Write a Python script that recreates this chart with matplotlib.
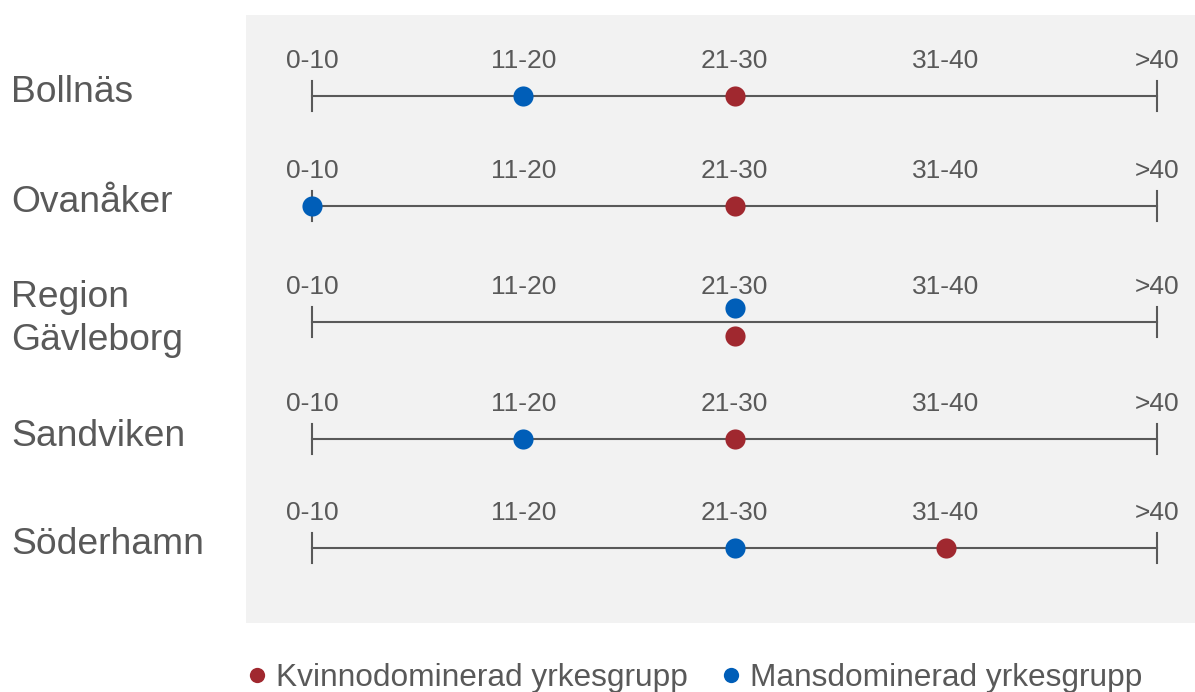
import matplotlib
matplotlib.use("Agg")
import matplotlib.pyplot as plt
from matplotlib.patches import Rectangle
from matplotlib.lines import Line2D

plt.rcParams['font.family'] = ['Liberation Sans', 'DejaVu Sans']

regions = ["Bollnäs", "Ovanåker", "Region\nGävleborg", "Sandviken", "Söderhamn"]
scale_labels = ["0-10", "11-20", "21-30", "31-40", ">40"]
kvinno = [2, 2, 2, 2, 3]   # index into scale_labels
mans = [1, 0, 2, 1, 2]
series_names = ["Kvinnodominerad yrkesgrupp", "Mansdominerad yrkesgrupp"]

RED = "#a0282f"
BLUE = "#005eb8"
TXT = "#595959"
LINE = "#595959"

W, H = 1195, 692
fig = plt.figure(figsize=(W / 100, H / 100), dpi=100)
ax = fig.add_axes([0, 0, 1, 1])
px0, step = 312.0, 211.25
ax.set_xlim(-px0 / step, (W - px0) / step)
ax.set_ylim(H, 0)
ax.axis('off')

def xd(p):
    return (p - px0) / step

# gray panel
ax.add_patch(Rectangle((xd(246), 15), xd(1195) - xd(246), 608,
                       facecolor="#f2f2f2", edgecolor="none", zorder=0))

row_y = [96, 206, 322, 439, 548]
n = len(scale_labels)
for i, (name, y) in enumerate(zip(regions, row_y)):
    ax.plot([0, n - 1], [y, y], color=LINE, lw=1.5, zorder=1)
    for e in (0, n - 1):
        ax.plot([e, e], [y - 15, y + 15], color=LINE, lw=1.5, zorder=1)
    for j, lab in enumerate(scale_labels):
        ax.text(j, y - 35, lab, ha='center', va='center', fontsize=19, color=TXT)
    ax.text(xd(11), y - 3, name, ha='left', va='center', fontsize=26.8, color=TXT,
            linespacing=1.3)
    if kvinno[i] == mans[i] and name.startswith("Region"):
        ky, my = y + 14, y - 14
    else:
        ky, my = y, y
    ax.plot(kvinno[i], ky, 'o', color=RED, ms=14.5, mec='none', zorder=3)
    ax.plot(mans[i], my, 'o', color=BLUE, ms=14.5, mec='none', zorder=3)

handles = [Line2D([], [], marker='o', ls='none', color=RED, ms=11, mec='none'),
           Line2D([], [], marker='o', ls='none', color=BLUE, ms=11, mec='none')]
fig.legend(handles, series_names, loc='center left', bbox_to_anchor=(219 / W, 1 - 678 / H),
           ncol=2, frameon=False, fontsize=22.8, handlelength=0.6, handletextpad=0.3,
           columnspacing=1.05, labelcolor=TXT)

fig.savefig("out.png", dpi=100)
